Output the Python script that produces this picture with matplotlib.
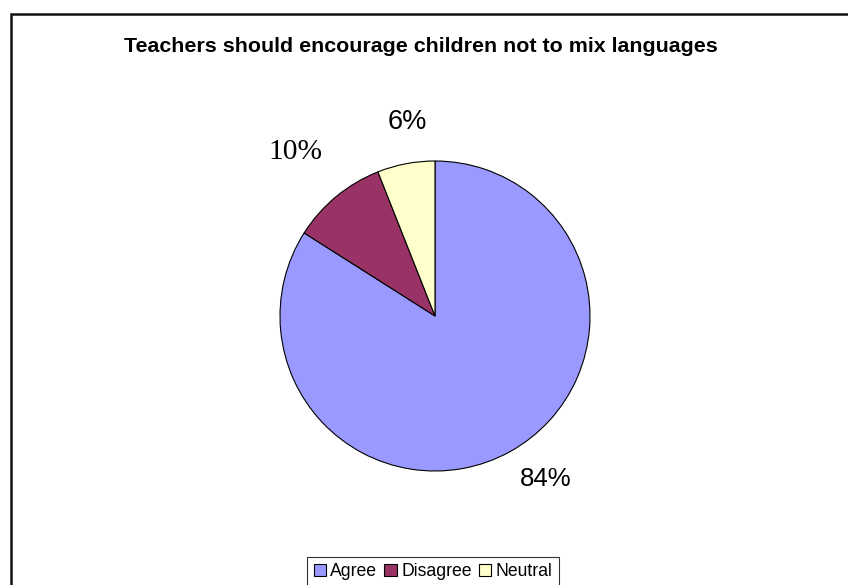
import matplotlib
matplotlib.use("Agg")
import matplotlib.pyplot as plt
from matplotlib.patches import Rectangle
import numpy as np

# Data
categories = ["Agree", "Disagree", "Neutral"]
shares = [84, 10, 6]
labels = ["84%", "10%", "6%"]
colors = ["#9999FF", "#993366", "#FFFFCC"]

W, H = 848, 585
fig = plt.figure(figsize=(W / 100, H / 100), dpi=100)


def fit_width(t, target_px):
    # scale the font so the rendered text is target_px wide
    fig.canvas.draw()
    w = t.get_window_extent().width
    t.set_fontsize(t.get_fontsize() * target_px / w)


# outer chart border (open on right / bottom like the cropped original)
fig.patches.append(Rectangle((10.5 / W, -0.1), 1.2, 1.1 - 14.5 / H, transform=fig.transFigure,
                             fill=False, edgecolor="#111111", linewidth=1.8))

title = fig.text(421 / W, 1 - 52 / H, "Teachers should encourage children not to mix languages",
                 ha="center", va="baseline", fontsize=12, fontweight="bold", family="Liberation Sans")
fit_width(title, 589)

# pie axes: centre (435, 316) px, radius 155 px
cx, cy, r = 435, 316, 155
ax = fig.add_axes([(cx - r) / W, (H - cy - r) / H, 2 * r / W, 2 * r / H])
wedges, _ = ax.pie(shares, colors=colors, startangle=90, counterclock=False,
                   wedgeprops=dict(edgecolor="black", linewidth=0.8))
ax.set_xlim(-1, 1)
ax.set_ylim(-1, 1)
ax.set_aspect("equal")

# label placement: distance (radii), angle shift from wedge middle, font, width in px
dists = [1.31, 1.355, 1.22]
shifts = [4.3, 1.9, -2.3]
fams = ["Liberation Sans", "Liberation Serif", "Liberation Sans"]
widths = [52, 54, 39]
for w, lab, d, sh, fam, wd in zip(wedges, labels, dists, shifts, fams, widths):
    th = np.deg2rad((w.theta1 + w.theta2) / 2 + sh)
    t = ax.text(d * np.cos(th), d * np.sin(th), lab, ha="center", va="baseline",
                fontsize=18, family=fam, clip_on=False)
    fit_width(t, wd)

leg_size = 12
for _ in range(3):
    leg = fig.legend(wedges, categories, loc="upper center", bbox_to_anchor=(433 / W, 1 - 557 / H),
                     ncol=3, frameon=True, fancybox=False, edgecolor="black",
                     handlelength=0.7, handleheight=0.7, handletextpad=0.25, columnspacing=0.4,
                     borderpad=0.35, borderaxespad=0, prop={"family": "Liberation Sans", "size": leg_size})
    fig.canvas.draw()
    lw = leg.get_window_extent().width
    leg.remove()
    leg_size *= 250 / lw
leg = fig.legend(wedges, categories, loc="upper center", bbox_to_anchor=(433 / W, 1 - 557 / H),
                 ncol=3, frameon=True, fancybox=False, edgecolor="black",
                 handlelength=0.7, handleheight=0.7, handletextpad=0.25, columnspacing=0.4,
                 borderpad=0.35, borderaxespad=0, prop={"family": "Liberation Sans", "size": leg_size})
leg.get_frame().set_linewidth(0.8)

fig.savefig("out.png", dpi=100)
